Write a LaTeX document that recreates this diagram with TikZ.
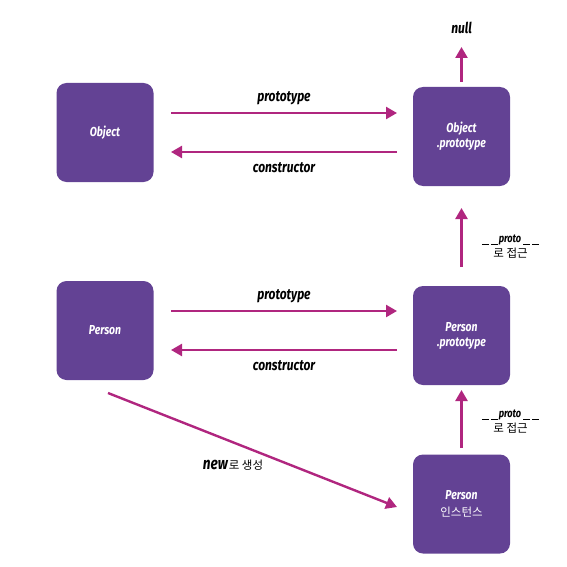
\documentclass[tikz,border=0pt]{standalone}
\usepackage{fontspec}
\usetikzlibrary{arrows.meta}
\newfontfamily\condit[FakeStretch=0.8]{Fira Sans}
\newfontfamily\kor{Noto Sans CJK KR}
\definecolor{boxpurple}{HTML}{634294}
\definecolor{arrowmag}{HTML}{B0267F}
\tikzset{
  objbox/.style={fill=boxpurple, rounded corners=10pt, minimum width=97pt, minimum height=99pt, text=white, align=center, inner sep=0pt, font=\condit\itshape\bfseries\fontsize{13}{15}\selectfont},
  link/.style={draw=arrowmag, line width=2.4pt, -{Triangle[length=11pt,width=12pt]}},
  lbl/.style={font=\condit\itshape\bfseries\fontsize{15}{17}\selectfont, inner sep=0pt},
  smlbl/.style={font=\fontsize{11.5}{13}\selectfont, align=center, inner sep=0pt}
}
\newcommand{\uline}{\rule[-1.5pt]{7pt}{0.8pt}}
\begin{document}
\begin{tikzpicture}[x=1pt,y=-1pt]
\useasboundingbox (0,0) rectangle (567,567);
\node[objbox] (obj) at (105,132.5) {Object};
\node[objbox] (objp) at (461.5,136.5) {Object\\.prototype};
\node[objbox] (per) at (105,330.5) {Person};
\node[objbox] (perp) at (461.5,335.5) {Person\\.prototype};
\node[objbox] (inst) at (461.5,504) {Person\\[2pt]{\kor\upshape\mdseries\fontsize{11.5}{13}\selectfont 인스턴스}};
\node[lbl] (null) at (461.5,28) {null};
\coordinate (nulltip) at (461.5,47);
\coordinate (o1) at (171,113); \coordinate (o2) at (397,113);
\coordinate (o3) at (397,152); \coordinate (o4) at (171,152);
\coordinate (p1) at (171,311); \coordinate (p2) at (397,311);
\coordinate (p3) at (397,350); \coordinate (p4) at (171,350);
\draw[link] (objp.north) ++(0,-5) -- (nulltip);
\draw[link] (o1) -- node[lbl, above=7pt] (lp1) {prototype} (o2);
\draw[link] (o3) -- node[lbl, below=9pt] (lc1) {constructor} (o4);
\draw[link] (p1) -- node[lbl, above=7pt] (lp2) {prototype} (p2);
\draw[link] (p3) -- node[lbl, below=9pt] (lc2) {constructor} (p4);
\coordinate (a1s) at (461.5,267); \coordinate (a1e) at (461.5,208);
\coordinate (a2s) at (461.5,448); \coordinate (a2e) at (461.5,390);
\draw[link] (a1s) -- (a1e);
\draw[link] (a2s) -- (a2e);
\node[smlbl] (pr1) at (510.5,247) {\uline\hspace{2pt}\uline\hspace{1pt}{\condit\itshape\bfseries\fontsize{11.5}{12}\selectfont proto}\hspace{2pt}\uline\hspace{2pt}\uline\\[2pt]{\kor 로 접근}};
\node[smlbl] (pr2) at (510.5,422) {\uline\hspace{2pt}\uline\hspace{1pt}{\condit\itshape\bfseries\fontsize{11.5}{12}\selectfont proto}\hspace{2pt}\uline\hspace{2pt}\uline\\[2pt]{\kor 로 접근}};
\coordinate (n1) at (108,393); \coordinate (n2) at (397,507);
\draw[link] (n1) -- (n2);
\node[inner sep=0pt] (newl) at (233,465) {{\condit\itshape\bfseries\fontsize{17}{18}\selectfont new}\hspace{1pt}{\kor\fontsize{11.5}{13}\selectfont 로 생성}};
\end{tikzpicture}
\end{document}
